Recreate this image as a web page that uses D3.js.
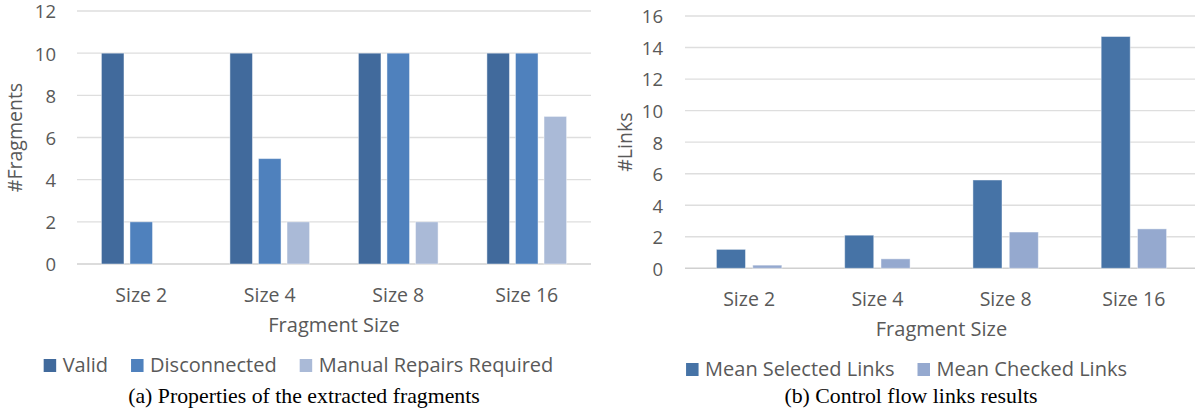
<!DOCTYPE html>
<html>
  <head>
    <script src="https://cdn.jsdelivr.net/npm/d3@7"></script>
    <style>
      body { margin: 0; background: #fff; }
      text { font-family: "Open Sans", sans-serif; fill: #595959; }
      .caption { font-family: "Liberation Serif", "Times New Roman", serif; fill: #000; }
    </style>
  </head>
  <body>
  <script>
  var width = 1195, height = 414;

  // chart (a)
  var sizes = ["Size 2", "Size 4", "Size 8", "Size 16"];
  var fragSeries = ["Valid", "Disconnected", "Manual Repairs Required"];
  var valid = [10, 10, 10, 10];
  var disconnected = [2, 5, 10, 10];
  var manualRepairs = [0, 2, 2, 7];
  var fragTicks = [0, 2, 4, 6, 8, 10, 12];

  // chart (b)
  var linkSeries = ["Mean Selected Links", "Mean Checked Links"];
  var meanSelected = [1.2, 2.1, 5.6, 14.7];
  var meanChecked = [0.2, 0.6, 2.3, 2.5];
  var linkTicks = [0, 2, 4, 6, 8, 10, 12, 14, 16];

  var svg = d3.select("body").append("svg")
      .attr("width", width)
      .attr("height", height);

  function drawChart(opt) {
    var g = svg.append("g");
    var y = d3.scaleLinear().domain([0, opt.ymax]).range([opt.bottom, opt.top]);
    var x0 = d3.scaleBand().domain(sizes).range([opt.left, opt.right])
        .paddingInner(opt.groupPad).paddingOuter(opt.groupPad / 2);
    var x1 = d3.scaleBand().domain(opt.series).range([0, x0.bandwidth()])
        .paddingInner(opt.barPad);
    var color = d3.scaleOrdinal().domain(opt.series).range(opt.colors);

    // gridlines
    g.selectAll(".grid").data(opt.ticks).enter().append("line")
        .attr("x1", opt.left).attr("x2", opt.right)
        .attr("y1", function(d) { return y(d); })
        .attr("y2", function(d) { return y(d); })
        .attr("stroke", function(d) { return d == 0 ? "#d0d0d0" : "#dedede"; })
        .attr("stroke-width", 1.4);

    // y tick labels
    g.selectAll(".ytick").data(opt.ticks).enter().append("text")
        .attr("x", opt.left - opt.tickGap)
        .attr("y", function(d) { return y(d); })
        .attr("dy", "0.4em")
        .attr("text-anchor", "end")
        .style("font-size", "18.5px")
        .text(function(d) { return d; });

    // bars
    var rows = sizes.map(function(s, i) {
      return opt.series.map(function(name, j) {
        return {cat: s, name: name, value: opt.values[j][i]};
      });
    });
    g.selectAll(".group").data(rows).enter().append("g")
        .attr("transform", function(d, i) { return "translate(" + x0(sizes[i]) + ",0)"; })
      .selectAll("rect").data(function(d) { return d.filter(function(e) { return e.value > 0; }); })
      .enter().append("rect")
        .attr("x", function(d) { return x1(d.name); })
        .attr("width", x1.bandwidth())
        .attr("y", function(d) { return y(d.value); })
        .attr("height", function(d) { return y(0) - y(d.value); })
        .attr("fill", function(d) { return color(d.name); })
        .attr("stroke", "#ffffff")
        .attr("stroke-opacity", 0.45)
        .attr("stroke-width", 1);

    // x tick labels
    g.selectAll(".xtick").data(sizes).enter().append("text")
        .attr("x", function(d) { return x0(d) + x0.bandwidth() / 2; })
        .attr("y", opt.bottom + 37.5)
        .attr("text-anchor", "middle")
        .style("font-size", "19.5px")
        .text(function(d) { return d; });

    // axis titles
    g.append("text")
        .attr("x", (opt.left + opt.right) / 2)
        .attr("y", opt.bottom + 68)
        .attr("text-anchor", "middle")
        .style("font-size", "20px")
        .text("Fragment Size");
    g.append("text")
        .attr("transform", "translate(" + opt.yTitleX + "," + (opt.top + opt.bottom) / 2 + ") rotate(-90)")
        .attr("text-anchor", "middle")
        .style("font-size", "19.5px")
        .text(opt.yTitle);

    // legend, centred on opt.legendCenter
    var leg = g.append("g");
    var items = leg.selectAll(".item").data(opt.series).enter().append("g");
    items.append("rect")
        .attr("y", -13).attr("width", 12.5).attr("height", 13)
        .attr("fill", function(d) { return color(d); });
    items.append("text")
        .attr("x", 19)
        .style("font-size", "20px")
        .text(function(d) { return d; });
    var xpos = 0;
    items.each(function() {
      var w = this.querySelector("text").getComputedTextLength() + 19;
      d3.select(this).attr("transform", "translate(" + xpos + ",0)");
      xpos += w + 23;
    });
    var total = xpos - 23;
    leg.attr("transform", "translate(" + (opt.legendCenter - total / 2) + "," + opt.legendY + ")");

    // caption
    g.append("text")
        .attr("class", "caption")
        .attr("x", opt.captionX)
        .attr("y", 403)
        .attr("text-anchor", "middle")
        .style("font-size", "21.8px")
        .text(opt.caption);
  }

  drawChart({
    left: 77, right: 591, top: 11, bottom: 264, ymax: 12,
    ticks: fragTicks, tickGap: 21,
    series: fragSeries,
    values: [valid, disconnected, manualRepairs],
    colors: ["#416a9c", "#4f81bd", "#aabad7"],
    groupPad: 0.38, barPad: 0.21,
    yTitle: "#Fragments", yTitleX: 22,
    legendCenter: 298.5, legendY: 372,
    caption: "(a) Properties of the extracted fragments", captionX: 304
  });

  drawChart({
    left: 685, right: 1198, top: 16, bottom: 268.3, ymax: 16,
    ticks: linkTicks, tickGap: 22,
    series: linkSeries,
    values: [meanSelected, meanChecked],
    colors: ["#4673a6", "#95a9cf"],
    groupPad: 0.49, barPad: 0.2,
    yTitle: "#Links", yTitleX: 632,
    legendCenter: 906.5, legendY: 376,
    caption: "(b) Control flow links results", captionX: 911
  });
  </script>
  </body>
</html>
